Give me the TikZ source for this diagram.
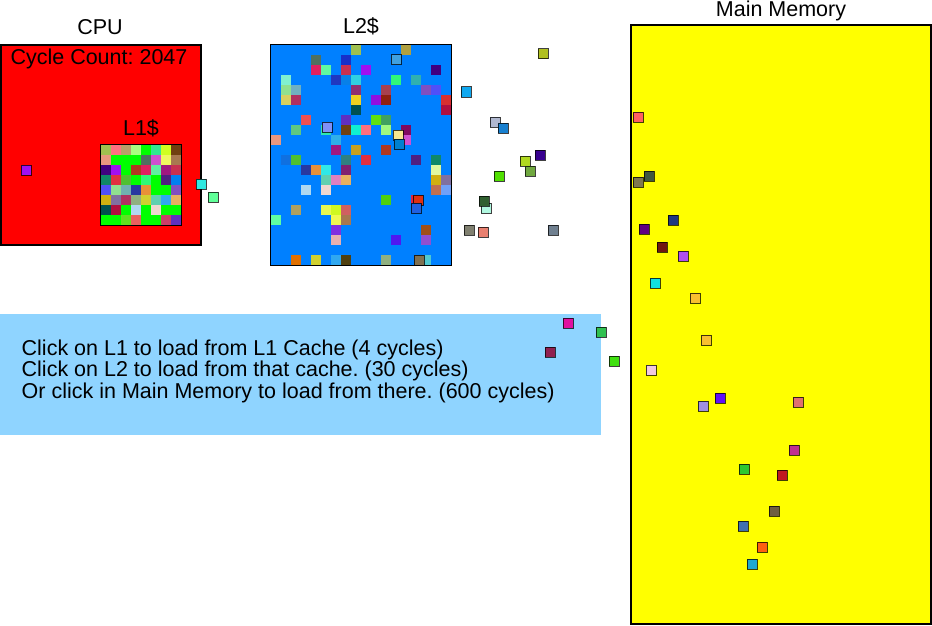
\documentclass[tikz,border=0pt]{standalone}
\usepackage{fontspec}
\setmainfont{Liberation Sans}
\frenchspacing
\definecolor{cpured}{HTML}{FF0000}
\definecolor{ltwoblue}{HTML}{0080FF}
\definecolor{memyellow}{HTML}{FFFF00}
\definecolor{infoblue}{HTML}{8FD4FF}

\begin{document}
\begin{tikzpicture}[x=1pt, y=-1pt,
  box/.style={draw, inner sep=0pt, outer sep=0pt, anchor=north west},
  lbl/.style={font=\fontsize{21.5}{21.5}\selectfont, inner sep=0pt, anchor=base},
  block/.style={draw=black, draw opacity=0.75, line width=1pt}]
\useasboundingbox (0,0) rectangle (932,626);

% titles
\node[lbl] (cpulbl) at (100,35) {CPU};
\node[lbl] (ltwolbl) at (361,34) {L2\$};
\node[lbl] (memlbl) at (781,16.5) {Main Memory};

% CPU with the L1 cache inside
\node[box, fill=cpured, line width=2pt, minimum width=200pt, minimum height=200pt] (cpu) at (1,45.3) {};
\node[lbl] (count) at (99,65) {Cycle Count: 2047};
\node[lbl] (lonelbl) at (141,135) {L1\$};
\node[box, fill=white, minimum width=81pt, minimum height=81pt] (lone) at (100.5,144.5) {};
\foreach \tilerow [count=\r from 0] in {
  {A0C050,FF7080,B8A068,A8FF80,00FF00,30E890,D0FF20,704010},
  {E89880,00FF00,00FF00,00FF00,507060,D050D0,F0F860,A87850},
  {400080,A010F0,00FF00,B03820,E02060,60F0A0,A01880,C83050},
  {108868,E03040,50C030,00FF00,30F878,00FF00,502080,0080F0},
  {5050F8,90E090,70B0B0,2838A0,E89038,00FF00,00FF00,8050C0},
  {D0B010,8070A0,B03060,90B080,D0D030,60D0B0,30A8F0,E8B060},
  {005050,B01040,00FF00,B0D8F0,00FF00,F0D8D0,00FF00,00FF00},
  {00FF00,00FF00,60E020,E86060,00FF00,00FF00,C84068,6030C0}} {
  \foreach \h [count=\c from 0] in \tilerow {
    \definecolor{tc}{HTML}{\h}
    \fill[tc] (101+10*\c,145+10*\r) rectangle ++(10,10);
  }
}
\draw (lone.north west) rectangle (lone.south east);

% L2 cache
\node[box, fill=ltwoblue, minimum width=181pt, minimum height=221pt] (ltwo) at (270.5,44.5) {};
\foreach \c/\r/\h in {8/0/A0C050, 13/0/B0A040,
  4/1/507060, 7/1/1830C8,
  4/2/E02060, 5/2/60F8A0, 7/2/C83050, 9/2/A010F0, 16/2/400080,
  1/3/80F0D0, 6/3/2038C0, 7/3/0880E8, 8/3/30D0E0, 12/3/30F878, 14/3/30B0B0,
  1/4/90E090, 2/4/70B0C0, 8/4/903070, 11/4/A84050, 15/4/8050C0, 16/4/5050F8,
  1/5/D8D060, 2/5/B03060, 8/5/F0D020, 10/5/9010E0, 11/5/902010, 17/5/D83030,
  8/6/005050, 17/6/B01040,
  3/7/F05050, 7/7/6030C0, 10/7/60E010, 11/7/40A060,
  2/8/60C880, 5/8/30E8B0, 7/8/704010, 8/8/10F0D0, 9/8/FF7080, 11/8/A0F880, 13/8/800860,
  0/9/E89880, 6/9/30B0E8, 13/9/D050D0,
  6/10/A01880, 8/10/C8A020, 11/10/B03820,
  1/11/1070E0, 2/11/50C030, 7/11/308080, 9/11/E03040, 14/11/502080, 16/11/108868,
  3/12/2838A0, 4/12/E89038, 5/12/30E8E8, 7/12/802070, 16/12/E0F8A0,
  5/13/60D0B0, 6/13/E080C0, 7/13/E8B060, 16/13/D0B010, 17/13/8070A0,
  3/14/B0D8F0, 5/14/F0D8D0, 16/14/C07050, 17/14/70A0F8,
  11/15/50D010, 14/15/E02040,
  2/16/B0A060, 5/16/E8F850, 6/16/D0F820, 7/16/D06060,
  0/17/60FFA0, 6/17/F0F850, 7/17/A87850,
  6/18/8030E0, 15/18/A05018,
  6/19/E8B0B0, 12/19/5018F0, 15/19/9050D0,
  2/21/E07000, 4/21/D0D030, 6/21/30A8F0, 7/21/504010, 11/21/90B080, 15/21/50C8D0} {
  \definecolor{tc}{HTML}{\h}
  \fill[tc] (271+10*\c,45+10*\r) rectangle ++(10,10);
}
\draw (ltwo.north west) rectangle (ltwo.south east);

% main memory
\node[box, fill=memyellow, line width=2pt, minimum width=300pt, minimum height=599pt] (mem) at (631,25) {};

% instructions
\node[box, draw=none, fill=infoblue, minimum width=601pt, minimum height=121pt] (info) at (0,314) {};
\node[font=\fontsize{21.5}{21.7}\selectfont, align=left, inner sep=0pt, anchor=base west] (infotext) at (21.5,398.5)
  {Click on L1 to load from L1 Cache (4 cycles)\\Click on L2 to load from that cache. (30 cycles)\\Or click in Main Memory to load from there. (600 cycles)};

% blocks on the move
\foreach \bx/\by/\h in {26/170/A010F0, 201/184/30E8E0, 213/197/60FF98,
  396/60/40A0E0, 327/127/8090F8, 398/135/F8E890, 399/144/0080D0,
  418/200/E03010, 416/208/2060E0, 419/260/807050,
  543/54/B0C020, 466/92/10A8F0, 495/122/B0B8D0, 503/128/1880D0,
  540/155/380090, 525/161/B0D820, 530/171/70A840, 499/176/50E000,
  486/208/B0F8E0, 484/201/306030, 469/230/808070, 483/232/E88070, 553/230/708090,
  568/323/E010A0, 601/332/30C050, 550/352/902050, 614/361/40E010,
  638/117/FF6060, 649/176/405840, 638/182/807850, 673/220/203880,
  644/229/600080, 662/247/701810, 683/256/B050F0, 655/283/10E0E0,
  695/298/F8C030, 706/340/F8C030, 651/370/F0C8E0, 720/398/6010F8,
  703/406/A090E0, 798/402/E07070, 794/450/C03090, 744/469/30C830,
  782/475/C01820, 774/511/706040, 743/526/4070B0, 762/547/FF6010, 752/564/20A8D0} {
  \definecolor{tc}{HTML}{\h}
  \draw[block, fill=tc] (\bx-5,\by-5) rectangle (\bx+5,\by+5);
}
\end{tikzpicture}
\end{document}
